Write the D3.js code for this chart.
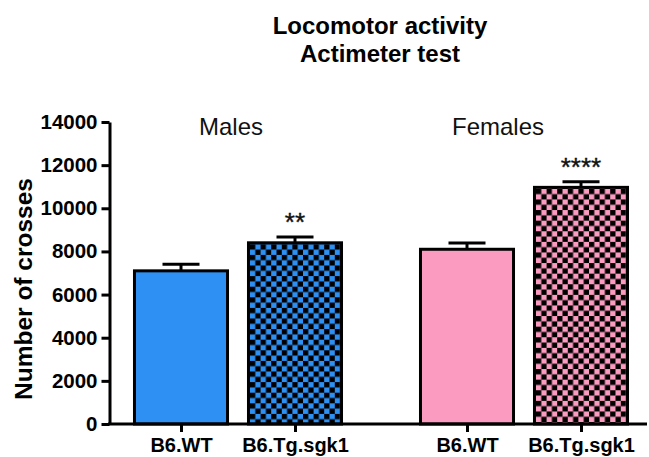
<!DOCTYPE html>
<html lang="en">
  <head>
    <meta charset="utf-8">
    <title>Locomotor activity - Actimeter test</title>
    <script src="https://cdnjs.cloudflare.com/ajax/libs/d3/7.8.5/d3.min.js"></script>
    <style>
      body {
        margin: 0;
        background: #fff;
        font-family: "Liberation Sans", Arial, sans-serif;
      }
    </style>
  </head>
  <body>
    <script type="text/javascript">

    // data
    const groups = ['Males', 'Females'];
    const genotypes = ['B6.WT', 'B6.Tg.sgk1'];
    const means = [[7100, 8400], [8100, 10970]];
    const sems = [[300, 270], [290, 260]];
    const stars = [['', '**'], ['', '****']];
    const yTicks = [0, 2000, 4000, 6000, 8000, 10000, 12000, 14000];
    const titleLines = ['Locomotor activity', 'Actimeter test'];
    const yLabel = 'Number of crosses';

    const w = 649;
    const h = 457;
    const axisX = 109.5;
    const baseY = 424;
    const colors = {Males: '#2e90f2', Females: '#fb9bbf'};
    const groupLabelDx = {Males: -7, Females: -26};

    const svg = d3.select('body')
                  .append('svg')
                  .attr('width', w)
                  .attr('height', h);

    const yScale = d3.scaleLinear()
                     .domain([0, 14000])
                     .range([baseY, 122]);

    const xGroup = d3.scaleBand()
                     .domain(groups)
                     .range([124, 638])
                     .paddingInner(0.2028)
                     .paddingOuter(0);

    const xInner = d3.scaleBand()
                     .domain(genotypes)
                     .range([0, xGroup.bandwidth()])
                     .paddingInner(0.184)
                     .paddingOuter(0.092);

    // flatten into one row per bar
    const bars = [];
    groups.forEach((g, gi) => {
      genotypes.forEach((t, ti) => {
        const x0 = xGroup(g) + xInner(t);
        bars.push({
          key: g + '|' + t,
          group: g,
          geno: t,
          mean: means[gi][ti],
          sem: sems[gi][ti],
          star: stars[gi][ti],
          x0: x0,
          cx: x0 + xInner.bandwidth() / 2,
          checker: ti === 1
        });
      });
    });

    // checker patterns, aligned to each bar's left edge
    const cell = 5.3;
    const defs = svg.append('defs');
    bars.filter(d => d.checker).forEach((d, i) => {
      const p = defs.append('pattern')
                    .attr('id', 'chk' + i)
                    .attr('patternUnits', 'userSpaceOnUse')
                    .attr('width', cell * 2)
                    .attr('height', cell * 2)
                    .attr('patternTransform', 'translate(' + (d.x0 + 1.5) + ',' + (yScale(d.mean) + 1.5) + ')');
      p.append('rect')
       .attr('width', cell * 2).attr('height', cell * 2)
       .attr('fill', colors[d.group]);
      p.append('rect')
       .attr('width', cell).attr('height', cell)
       .attr('fill', '#000');
      p.append('rect')
       .attr('x', cell).attr('y', cell)
       .attr('width', cell).attr('height', cell)
       .attr('fill', '#000');
      d.fill = 'url(#chk' + i + ')';
    });

    // error bars (drawn first, the bar hides the lower half)
    const err = svg.append('g')
                   .attr('stroke', '#000')
                   .attr('stroke-width', 3);
    err.selectAll('line.stem')
       .data(bars)
       .enter()
       .append('line')
       .attr('class', 'stem')
       .attr('x1', d => d.cx).attr('x2', d => d.cx)
       .attr('y1', d => yScale(d.mean))
       .attr('y2', d => yScale(d.mean + d.sem));
    err.selectAll('line.cap')
       .data(bars)
       .enter()
       .append('line')
       .attr('class', 'cap')
       .attr('x1', d => d.cx - 18.5).attr('x2', d => d.cx + 18.5)
       .attr('y1', d => yScale(d.mean + d.sem))
       .attr('y2', d => yScale(d.mean + d.sem));

    svg.selectAll('rect.bar')
       .data(bars)
       .enter()
       .append('rect')
       .attr('class', 'bar')
       .attr('x', d => d.x0)
       .attr('y', d => yScale(d.mean))
       .attr('width', xInner.bandwidth())
       .attr('height', d => baseY - yScale(d.mean))
       .attr('fill', d => d.fill || colors[d.group])
       .attr('stroke', '#000')
       .attr('stroke-width', 3);

    // significance stars
    svg.selectAll('text.star')
       .data(bars.filter(d => d.star))
       .enter()
       .append('text')
       .attr('class', 'star')
       .attr('x', d => d.cx)
       .attr('y', d => yScale(d.mean + d.sem) - 6)
       .attr('text-anchor', 'middle')
       .style('font-size', '26px')
       .style('fill', '#111')
       .style('stroke', '#111')
       .style('stroke-width', 0.4)
       .text(d => d.star);

    // y axis
    const yAxis = d3.axisLeft(yScale)
                    .tickValues(yTicks)
                    .tickFormat(d3.format('d'))
                    .tickSizeInner(8)
                    .tickSizeOuter(0)
                    .tickPadding(4);
    const gy = svg.append('g')
                  .attr('transform', 'translate(' + axisX + ',0)')
                  .call(yAxis);
    gy.selectAll('path, line').attr('stroke', '#000').attr('stroke-width', 3);
    gy.selectAll('text')
      .attr('fill', '#000')
      .style('font-size', '20.5px')
      .style('font-weight', 'bold')
      .style('font-family', '"Liberation Sans", Arial, sans-serif');

    // x axis: line across, ticks at bar centres
    const xPos = d3.scaleOrdinal()
                   .domain(bars.map(d => d.key))
                   .range(bars.map(d => d.cx));
    const xAxis = d3.axisBottom(xPos)
                    .tickSizeInner(8)
                    .tickSizeOuter(0)
                    .tickPadding(6)
                    .tickFormat(k => k.split('|')[1]);
    const gx = svg.append('g')
                  .attr('transform', 'translate(0,' + baseY + ')')
                  .call(xAxis);
    gx.select('.domain').remove();
    gx.append('line')
      .attr('x1', axisX - 1.5).attr('x2', 647)
      .attr('y1', 0).attr('y2', 0);
    gx.selectAll('line').attr('stroke', '#000').attr('stroke-width', 3);
    gx.selectAll('text')
      .attr('fill', '#000')
      .attr('dy', '0.71em')
      .style('font-size', '20px')
      .style('font-weight', 'bold')
      .style('font-family', '"Liberation Sans", Arial, sans-serif');

    // group labels
    svg.selectAll('text.group')
       .data(groups)
       .enter()
       .append('text')
       .attr('class', 'group')
       .attr('x', g => xGroup(g) + xGroup.bandwidth() / 2 + groupLabelDx[g])
       .attr('y', 135)
       .attr('text-anchor', 'middle')
       .style('font-size', '24px')
       .style('fill', '#111')
       .text(g => g);

    // title
    svg.selectAll('text.title')
       .data(titleLines)
       .enter()
       .append('text')
       .attr('class', 'title')
       .attr('x', 380)
       .attr('y', (d, i) => 34 + i * 28)
       .attr('text-anchor', 'middle')
       .style('font-size', '24px')
       .style('font-weight', 'bold')
       .text(d => d);

    // y axis label
    svg.append('text')
       .attr('transform', 'translate(32,289) rotate(-90)')
       .attr('text-anchor', 'middle')
       .style('font-size', '24.5px')
       .style('font-weight', 'bold')
       .text(yLabel);

    </script>
  </body>
</html>
